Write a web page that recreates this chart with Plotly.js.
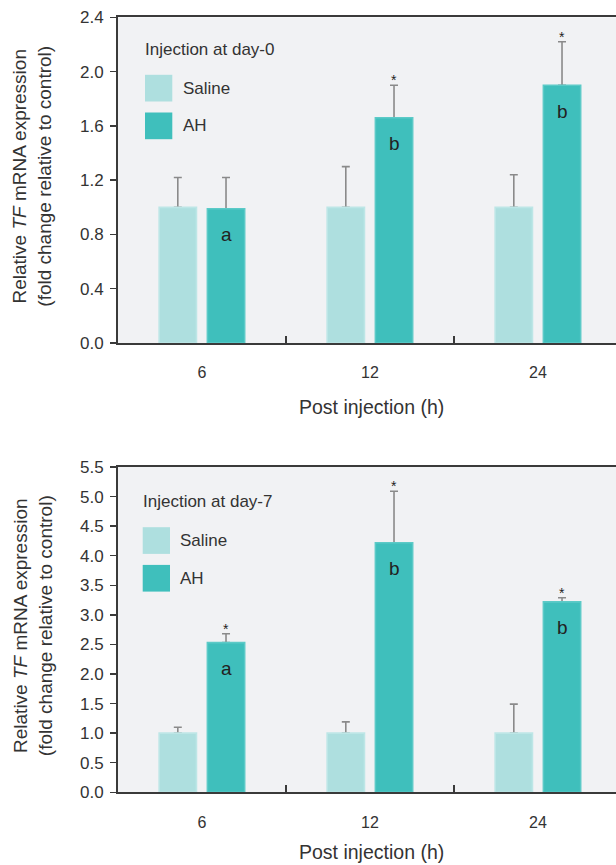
<!DOCTYPE html>
<html><head><meta charset="utf-8">
<script src="https://cdn.plot.ly/plotly-3.0.1.min.js"></script>
<style>html,body{margin:0;padding:0;background:#fff;}#chart{width:616px;height:865px;}</style>
</head><body><div id="chart"></div>
<script>
// ---- data ----
const categories = ['6', '12', '24'];
const seriesNames = ['Saline', 'AH'];
const panelTitles = ['Injection at day-0', 'Injection at day-7'];
const salineDay0 = [1.00, 1.00, 1.00];
const salineDay0Err = [0.22, 0.30, 0.24];
const ahDay0 = [0.99, 1.66, 1.90];
const ahDay0Err = [0.23, 0.24, 0.32];
const salineDay7 = [1.00, 1.00, 1.00];
const salineDay7Err = [0.10, 0.19, 0.49];
const ahDay7 = [2.53, 4.22, 3.22];
const ahDay7Err = [0.15, 0.87, 0.07];
const lettersDay0 = ['a', 'b', 'b'];
const lettersDay7 = ['a', 'b', 'b'];
const starsDay0 = [false, true, true];
const starsDay7 = [true, true, true];
const xTitle = 'Post injection (h)';
const yTitle = 'Relative <i>TF</i> mRNA expression<br>(fold change relative to control)';

// ---- layout helpers ----
const W = 616, H = 865;
const FONT = 'Liberation Sans, Arial, Helvetica, sans-serif';
const TXT = '#333333';
const AXC = '#3a3a3a';
const COL_SAL = '#aedfdf', COL_AH = '#3fbfbc';
const EDGE_SAL = '#bde6e6', EDGE_AH = '#5ccac7';
const px = x => x / W;
const py = y => 1 - y / H;
const BW = 0.222, OFF_S = -0.255, OFF_A = 0.032;

const panels = [
  {top: 17.4, bottom: 343, ymax: 2.4, dtick: 0.4, xa: 'x', ya: 'y', sal: salineDay0, salE: salineDay0Err, ah: ahDay0, ahE: ahDay0Err, letters: lettersDay0, stars: starsDay0, title: panelTitles[0], lx: 145, ly: 49.3, xt: 64},
  {top: 467, bottom: 792.3, ymax: 5.5, dtick: 0.5, xa: 'x2', ya: 'y2', sal: salineDay7, salE: salineDay7Err, ah: ahDay7, ahE: ahDay7Err, letters: lettersDay7, stars: starsDay7, title: panelTitles[1], lx: 142.7, ly: 501.7, xt: 59.5}
];

const traces = [];
const annotations = [];
const shapes = [];
const layout = {
  width: W, height: H,
  margin: {l: 0, r: 0, t: 0, b: 0},
  paper_bgcolor: '#ffffff',
  plot_bgcolor: '#f1f2f4',
  barmode: 'overlay',
  showlegend: false,
  font: {family: FONT, color: TXT},
  annotations: annotations,
  shapes: shapes
};

const xLeft = 118, xRight = 616, catW = 168;
panels.forEach((p, k) => {
  const sfx = k === 0 ? '' : '2';
  const zeros = p.sal.map(() => 0);
  // error-bar carriers (transparent bars drawn first)
  traces.push({type: 'bar', x: categories, y: p.sal, xaxis: p.xa, yaxis: p.ya, offset: OFF_S, width: BW,
    marker: {color: 'rgba(0,0,0,0)'}, hoverinfo: 'skip',
    error_y: {type: 'data', symmetric: false, array: p.salE, arrayminus: zeros, color: '#8a8a8a', thickness: 1.6, width: 4}});
  traces.push({type: 'bar', x: categories, y: p.ah, xaxis: p.xa, yaxis: p.ya, offset: OFF_A, width: BW,
    marker: {color: 'rgba(0,0,0,0)'}, hoverinfo: 'skip',
    error_y: {type: 'data', symmetric: false, array: p.ahE, arrayminus: zeros, color: '#8a8a8a', thickness: 1.6, width: 4}});
  // visible bars
  traces.push({type: 'bar', name: seriesNames[0], x: categories, y: p.sal, xaxis: p.xa, yaxis: p.ya, offset: OFF_S, width: BW,
    marker: {color: COL_SAL, line: {color: EDGE_SAL, width: 1.6}}});
  traces.push({type: 'bar', name: seriesNames[1], x: categories, y: p.ah, xaxis: p.xa, yaxis: p.ya, offset: OFF_A, width: BW,
    marker: {color: COL_AH, line: {color: EDGE_AH, width: 1.6}}});

  layout['xaxis' + sfx] = {
    domain: [px(xLeft), 1], anchor: p.ya, type: 'category',
    range: [-0.5, -0.5 + (xRight - xLeft) / catW],
    showline: true, linecolor: AXC, linewidth: 2, mirror: true,
    ticks: 'inside', tickson: 'boundaries', ticklen: 7, tickwidth: 1.5, tickcolor: AXC,
    tickfont: {family: FONT, size: 16, color: TXT}, ticklabelstandoff: 14,
    showgrid: false, zeroline: false, fixedrange: true
  };
  layout['yaxis' + sfx] = {
    domain: [py(p.bottom), py(p.top)], anchor: p.xa,
    range: [0, p.ymax], dtick: p.dtick, tick0: 0, tickformat: '.1f',
    showline: true, linecolor: AXC, linewidth: 2,
    ticks: 'outside', ticklen: 6, tickwidth: 1.5, tickcolor: AXC,
    tickfont: {family: FONT, size: 17, color: TXT}, ticklabelstandoff: 3,
    showgrid: false, zeroline: false, fixedrange: true
  };

  // letters and asterisks on AH bars
  const cx = OFF_A + BW / 2;
  p.ah.forEach((v, i) => {
    annotations.push({xref: p.xa, yref: p.ya, x: i + cx, y: v, text: p.letters[i], showarrow: false,
      yanchor: 'middle', yshift: -26, font: {family: FONT, size: 19, color: '#222'}});
    if (p.stars[i]) {
      annotations.push({xref: p.xa, yref: p.ya, x: i + cx, y: v + p.ahE[i], text: '*', showarrow: false,
        yanchor: 'bottom', yshift: -5, font: {family: FONT, size: 14, color: '#222'}});
    }
  });

  // axis titles
  const midY = (p.top + p.bottom) / 2 - 4;
  annotations.push({xref: 'paper', yref: 'paper', x: px(32.5), y: py(midY), text: yTitle, textangle: -90,
    showarrow: false, xanchor: 'center', yanchor: 'middle', font: {family: FONT, size: 19, color: TXT}});
  annotations.push({xref: 'paper', yref: 'paper', x: px(371), y: py(p.bottom + p.xt), text: xTitle,
    showarrow: false, xanchor: 'center', yanchor: 'middle', font: {family: FONT, size: 19.5, color: TXT}});

  // in-plot legend
  annotations.push({xref: 'paper', yref: 'paper', x: px(p.lx - 2), y: py(p.ly), text: p.title, showarrow: false,
    xanchor: 'left', yanchor: 'middle', font: {family: FONT, size: 17, color: TXT}});
  const sw = [[25.5, 52.2], [63.2, 89.9]];
  const cols = [COL_SAL, COL_AH];
  sw.forEach((s, j) => {
    shapes.push({type: 'rect', xref: 'paper', yref: 'paper', x0: px(p.lx), x1: px(p.lx + 27.3),
      y0: py(p.ly + s[1]), y1: py(p.ly + s[0]), fillcolor: cols[j], line: {width: 0}});
    annotations.push({xref: 'paper', yref: 'paper', x: px(p.lx + 35.5), y: py(p.ly + (s[0] + s[1]) / 2),
      text: seriesNames[j], showarrow: false, xanchor: 'left', yanchor: 'middle',
      font: {family: FONT, size: 17, color: TXT}});
  });
});

Plotly.newPlot('chart', traces, layout, {staticPlot: true, displayModeBar: false});
</script>
</body></html>
